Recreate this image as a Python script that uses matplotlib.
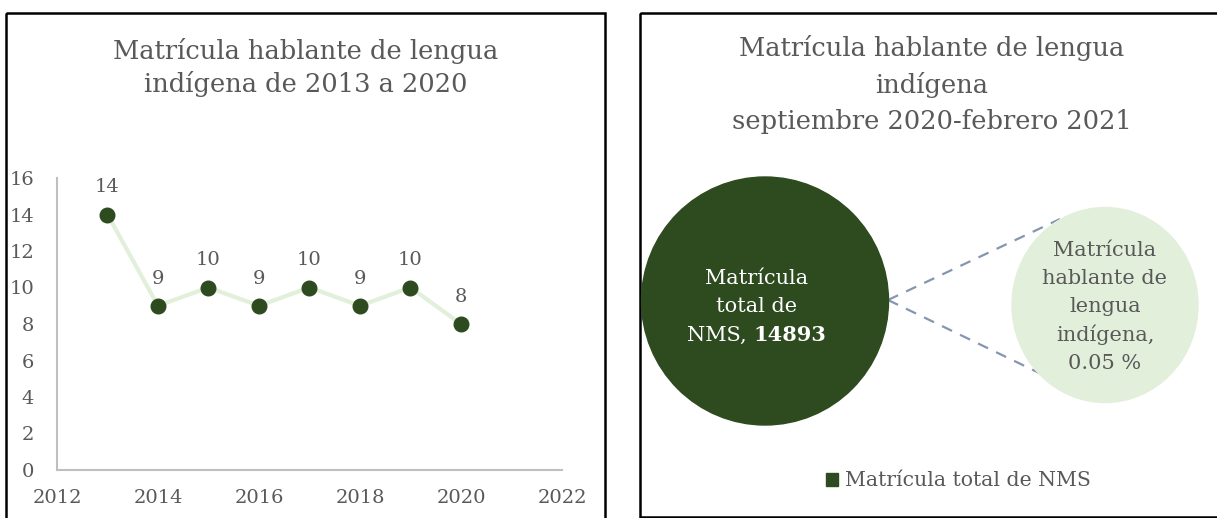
import matplotlib
matplotlib.use("Agg")
import matplotlib.pyplot as plt
from matplotlib.patches import Ellipse, Rectangle

# ---- data -------------------------------------------------------------
years = [2013, 2014, 2015, 2016, 2017, 2018, 2019, 2020]
matricula_indigena = [14, 9, 10, 9, 10, 9, 10, 8]
x_ticks = [2012, 2014, 2016, 2018, 2020, 2022]
y_ticks = [0, 2, 4, 6, 8, 10, 12, 14, 16]

total_nms = 14893
pct_indigena = 0.05

# ---- style ------------------------------------------------------------
W, H = 1217, 518
DARK = "#2e4a1f"
LIGHT = "#e2efda"
TEXT = "#595959"
plt.rcParams["font.family"] = ["DejaVu Serif"]

fig = plt.figure(figsize=(W / 100, H / 100), dpi=100)


def px_axes(x0, y0, x1, y1):
    # axes placed by pixel box (top-left origin)
    return fig.add_axes([x0 / W, 1 - y1 / H, (x1 - x0) / W, (y1 - y0) / H])


# overlay in pixel coordinates for frames and right panel
over = fig.add_axes([0, 0, 1, 1])
over.set_xlim(0, W)
over.set_ylim(H, 0)
over.axis("off")

over.add_patch(Rectangle((6, 13), 599, 520, fill=False, ec="black", lw=1.8))
over.add_patch(Rectangle((640, 13), 600, 504, fill=False, ec="black", lw=1.8))

# ---- left panel: line chart ------------------------------------------
ax = px_axes(57, 178, 562, 470)
ax.plot(years, matricula_indigena, color=LIGHT, lw=3, zorder=2)
ax.plot(years, matricula_indigena, "o", color=DARK, ms=10.5, zorder=3)
for x, y in zip(years, matricula_indigena):
    ax.annotate(str(y), (x, y), xytext=(0, 13), textcoords="offset points",
                ha="center", va="bottom", fontsize=14, color=TEXT)
ax.set_xlim(2012, 2022)
ax.set_ylim(0, 16)
ax.set_xticks(x_ticks)
ax.set_yticks(y_ticks)
ax.tick_params(length=0, labelsize=14, labelcolor=TEXT)
ax.tick_params(axis="x", pad=14)
ax.tick_params(axis="y", pad=16.5)
for s in ("top", "right"):
    ax.spines[s].set_visible(False)
for s in ("left", "bottom"):
    ax.spines[s].set_color("#bfbfbf")
    ax.spines[s].set_linewidth(1.5)
ax.patch.set_alpha(0)

over.text(306, 51, "Matrícula hablante de lengua", ha="center", va="center",
          fontsize=18.5, color=TEXT)
over.text(306, 84, "indígena de 2013 a 2020", ha="center", va="center",
          fontsize=18.5, color=TEXT)

# ---- right panel: bubbles --------------------------------------------
for i, line in enumerate(["Matrícula hablante de lengua", "indígena",
                          "septiembre 2020-febrero 2021"]):
    over.text(932, 48 + 37 * i, line, ha="center", va="center",
              fontsize=18.5, color=TEXT)

over.plot([888, 1060], [300, 219], ls=(0, (5, 4)), color="#8496b0", lw=1.6)
over.plot([888, 1060], [300, 383], ls=(0, (5, 4)), color="#8496b0", lw=1.6)

over.add_patch(Ellipse((765, 301), 247, 248, color=DARK, zorder=3))
over.add_patch(Ellipse((1105, 305), 186, 195, color=LIGHT, zorder=3))

over.text(757, 278, "Matrícula", ha="center", va="center", fontsize=15,
          color="white", zorder=4)
over.text(757, 307, "total de", ha="center", va="center", fontsize=15,
          color="white", zorder=4)
over.text(747, 335, "NMS,", ha="right", va="center", fontsize=15,
          color="white", zorder=4)
over.text(753, 335, str(total_nms), ha="left", va="center", fontsize=15,
          color="white", fontweight="bold", zorder=4)

small_lines = ["Matrícula", "hablante de", "lengua", "indígena,",
               f"{pct_indigena:.2f} %"]
for i, line in enumerate(small_lines):
    over.text(1105, 250 + 28.3 * i, line, ha="center", va="center",
              fontsize=15, color=TEXT, zorder=4)

over.add_patch(Rectangle((826, 473), 12, 13, color=DARK))
over.text(845, 480, "Matrícula total de NMS", ha="left", va="center",
          fontsize=14.7, color=TEXT)

fig.savefig("out.png", dpi=100)
